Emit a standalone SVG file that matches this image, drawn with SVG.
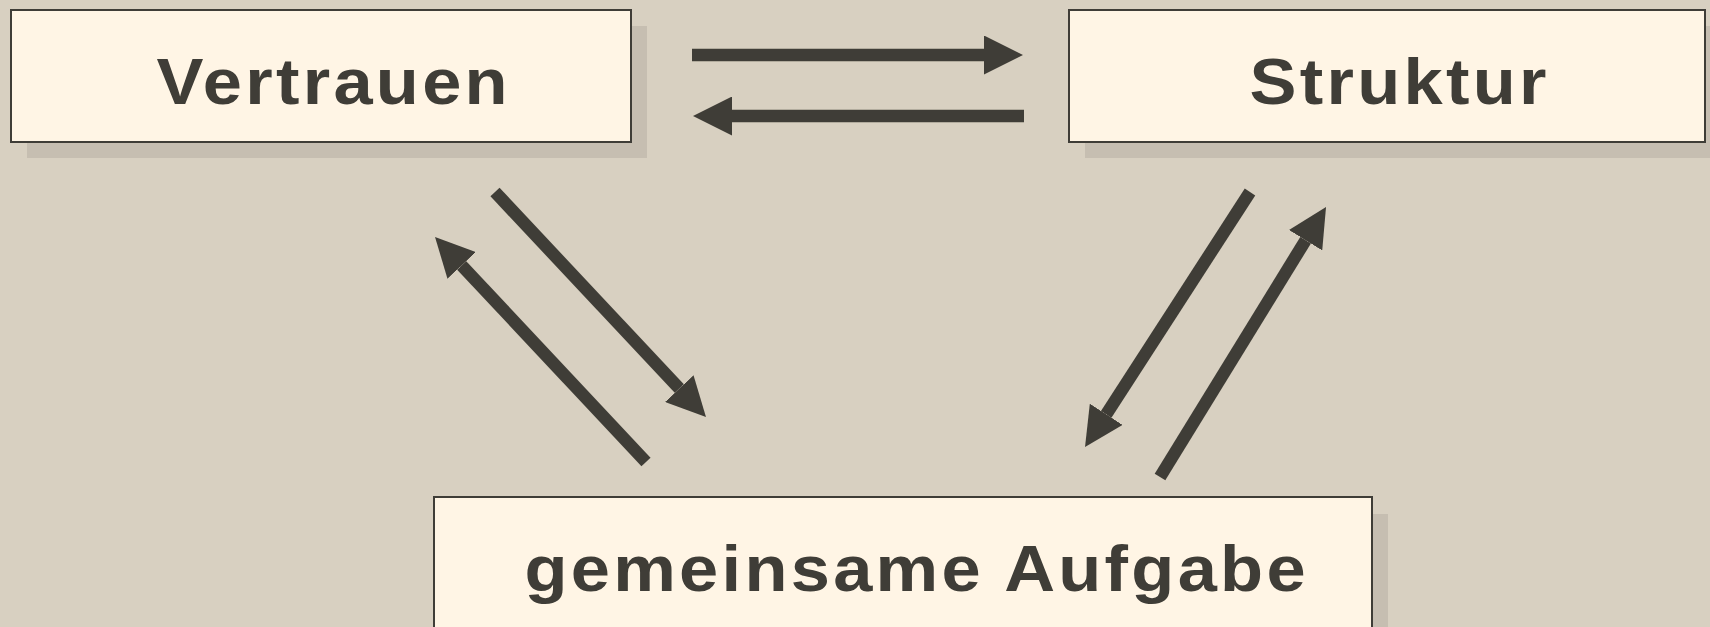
<svg xmlns="http://www.w3.org/2000/svg" width="1710" height="627" viewBox="0 0 1710 627">
<style>
.shadow{fill:#c6beb1}
.box{fill:#fff5e5;stroke:#3f3d37;stroke-width:2}
.lbl{font-family:"Liberation Sans",Arial,sans-serif;font-weight:bold;font-size:64px;letter-spacing:3px;fill:#3f3d37;text-anchor:middle}
.conn{stroke:#3f3d37;stroke-width:12.5;fill:none;marker-end:url(#head)}
</style>
<defs>
<marker id="head" viewBox="0 0 39 39" refX="0" refY="19.5" markerWidth="39" markerHeight="39" markerUnits="userSpaceOnUse" orient="auto">
<path d="M0,0 L39,19.5 L0,39 z" fill="#3f3d37"/>
</marker>
</defs>
<rect width="1710" height="627" fill="#d8d0c1"/>
<g id="node-vertrauen">
<rect class="shadow" x="27" y="26" width="620" height="132"/>
<rect class="box" x="11" y="10" width="620" height="132"/>
<text class="lbl" transform="translate(332,104) scale(1.1,1)" x="1.5" y="0">Vertrauen</text>
</g>
<g id="node-struktur">
<rect class="shadow" x="1085" y="26" width="636" height="132"/>
<rect class="box" x="1069" y="10" width="636" height="132"/>
<text class="lbl" transform="translate(1398,104) scale(1.1,1)" x="1.5" y="0">Struktur</text>
</g>
<g id="node-aufgabe">
<rect class="shadow" x="450" y="514" width="938" height="132"/>
<rect class="box" x="434" y="497" width="938" height="132"/>
<text class="lbl" transform="translate(915,591) scale(1.1,1)" x="1.5" y="0">gemeinsame Aufgabe</text>
</g>
<g id="connectors">
<line class="conn" x1="692" y1="55" x2="984" y2="55"/>
<line class="conn" x1="1024" y1="116" x2="732" y2="116"/>
<line class="conn" x1="495" y1="192" x2="679.3" y2="388.6"/>
<line class="conn" x1="646" y1="462" x2="461.7" y2="265.4"/>
<line class="conn" x1="1250" y1="192" x2="1106.2" y2="414.3"/>
<line class="conn" x1="1160" y1="477" x2="1305.6" y2="240.2"/>
</g>
</svg>
